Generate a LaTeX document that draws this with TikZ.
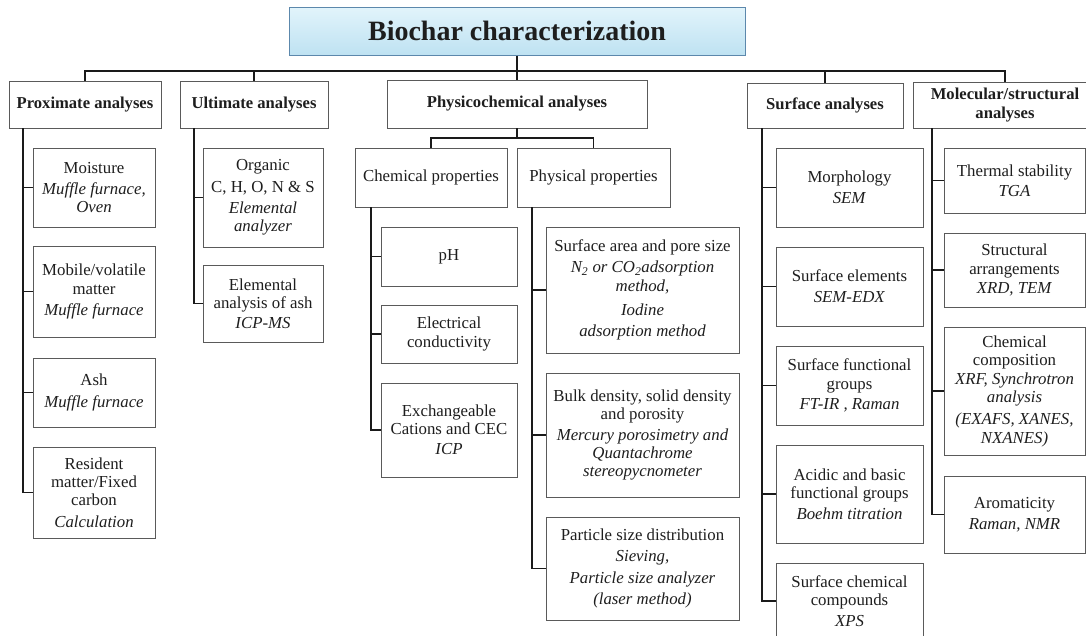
\documentclass[tikz,border=0pt]{standalone}
\usepackage{fontspec}
\setmainfont{Liberation Serif}
\definecolor{txt}{HTML}{1E1E1E}
\definecolor{boxline}{HTML}{5A5A5A}
\definecolor{conncol}{HTML}{1A1A1A}
\definecolor{titletop}{HTML}{E2F4FB}
\definecolor{titlebot}{HTML}{BEE2F2}
\definecolor{titleline}{HTML}{5C88AC}
\newcommand{\mth}[1]{\textit{#1}}
\begin{document}
\begin{tikzpicture}[x=1pt,y=-1pt,
  bx/.style={draw=boxline,line width=0.9pt,fill=white,inner sep=1pt,align=center,text=txt,
    font=\fontsize{16.8}{18.2}\selectfont},
  hd/.style={bx,font=\fontsize{16.6}{18.5}\selectfont\bfseries},
  conn/.style={draw=conncol,line width=1.5pt},
  bus/.style={draw=conncol,line width=2pt}]
\useasboundingbox (0,0) rectangle (1086,635);

% title
\node[draw=titleline,line width=1pt,top color=titletop,bottom color=titlebot,
  minimum width=456pt,minimum height=48pt,inner sep=0pt,text=txt,
  font=\fontsize{28}{30}\selectfont\bfseries] (title) at (517,31) {Biochar characterization};

% level 1
\node[hd,minimum width=152pt,minimum height=47pt] (prox) at (85,104.5) {Proximate analyses};
\node[hd,minimum width=148pt,minimum height=47pt] (ult) at (254,104.5) {Ultimate analyses};
\node[hd,minimum width=260pt,minimum height=48pt] (phys) at (517,104) {Physicochemical analyses};
\node[hd,minimum width=156pt,minimum height=45pt] (surf) at (825,105.5) {Surface analyses};
\node[hd,minimum width=184pt,minimum height=46pt] (mol) at (1005,105) {Molecular/structural\\analyses};

\coordinate (busy) at (517,71);
\draw[bus] (title.south) -- (phys.north);
\draw[bus] (prox.north) -- (prox.north |- busy) -- (mol.north |- busy) -- (mol.north);
\draw[bus] (ult.north) -- (ult.north |- busy);
\draw[bus] (surf.north) -- (surf.north |- busy);

% physicochemical sub level
\node[bx,minimum width=152pt,minimum height=59pt] (chem) at (431,177.5) {Chemical properties};
\node[bx,minimum width=153pt,minimum height=59pt] (physp) at (593.5,177.5) {Physical properties};
\coordinate (pcb) at (517,138);
\draw[conn] (phys.south) -- (pcb);
\draw[conn] (chem.north) -- (chem.north |- pcb) -- (physp.north |- pcb) -- (physp.north);

% proximate column
\node[bx,minimum width=122pt,minimum height=79pt] (moist) at (94,187.5) {Moisture\\[3pt]\mth{Muffle furnace,}\\\mth{Oven}};
\node[bx,minimum width=122pt,minimum height=91pt] (mobile) at (94,291.5) {Mobile/volatile\\matter\\[3pt]\mth{Muffle furnace}};
\node[bx,minimum width=122pt,minimum height=69pt] (ash) at (94,392.5) {Ash\\[3pt]\mth{Muffle furnace}};
\node[bx,minimum width=122pt,minimum height=91pt] (res) at (94,492.5) {Resident\\matter/Fixed\\carbon\\[3pt]\mth{Calculation}};
\coordinate (vprox) at (23,0);
\draw[conn] (prox.south -| vprox) |- (res.west);
\foreach \n in {moist,mobile,ash} \draw[conn] (\n.west) -- (\n.west -| vprox);

% ultimate column
\node[bx,minimum width=120pt,minimum height=99pt] (org) at (263,197.5) {Organic\\[3pt]C, H, O, N \& S\\[3pt]\mth{Elemental}\\\mth{analyzer}};
\node[bx,minimum width=120pt,minimum height=77pt] (elem) at (263,303.5) {Elemental\\analysis of ash\\[2pt]\mth{ICP-MS}};
\coordinate (vult) at (194,0);
\draw[conn] (ult.south -| vult) |- (elem.west);
\draw[conn] (org.west) -- (org.west -| vult);

% chemical properties column
\node[bx,minimum width=136pt,minimum height=59pt] (ph) at (449,256.5) {pH};
\node[bx,minimum width=136pt,minimum height=58pt] (ec) at (449,334) {Electrical\\conductivity};
\node[bx,minimum width=136pt,minimum height=94pt] (cec) at (449,430) {Exchangeable\\Cations and CEC\\[2pt]\mth{ICP}};
\coordinate (vchem) at (371,0);
\draw[conn] (chem.south -| vchem) |- (cec.west);
\foreach \n in {ph,ec} \draw[conn] (\n.west) -- (\n.west -| vchem);

% physical properties column
\node[bx,minimum width=193pt,minimum height=126pt] (sap) at (642.5,290) {Surface area and pore size\\[3pt]\mth{N\textsubscript{2} or CO\textsubscript{2}adsorption}\\\mth{method,}\\[6pt]\mth{Iodine}\\[3pt]\mth{adsorption method}};
\node[bx,minimum width=193pt,minimum height=124pt] (bd) at (642.5,435) {Bulk density, solid density\\and porosity\\[3pt]\mth{Mercury porosimetry and}\\\mth{Quantachrome}\\\mth{stereopycnometer}};
\node[bx,minimum width=193pt,minimum height=103pt] (psd) at (642.5,568.5) {Particle size distribution\\[3pt]\mth{Sieving,}\\[3pt]\mth{Particle size analyzer}\\[3pt]\mth{(laser method)}};
\coordinate (vphy) at (532,0);
\draw[conn] (physp.south -| vphy) |- (psd.west);
\foreach \n in {sap,bd} \draw[conn] (\n.west) -- (\n.west -| vphy);

% surface column
\node[bx,minimum width=147pt,minimum height=79pt] (morph) at (849.5,187.5) {Morphology\\[3pt]\mth{SEM}};
\node[bx,minimum width=147pt,minimum height=79pt] (sel) at (849.5,286.5) {Surface elements\\[3pt]\mth{SEM-EDX}};
\node[bx,minimum width=147pt,minimum height=79pt] (sfg) at (849.5,385.5) {Surface functional\\groups\\[2pt]\mth{FT-IR , Raman}};
\node[bx,minimum width=147pt,minimum height=98pt] (abg) at (849.5,494) {Acidic and basic\\functional groups\\[3pt]\mth{Boehm titration}};
\node[bx,minimum width=147pt,minimum height=76pt] (scc) at (849.5,601) {Surface chemical\\compounds\\[2pt]\mth{XPS}};
\coordinate (vsurf) at (762,0);
\draw[conn] (surf.south -| vsurf) |- (scc.west);
\foreach \n in {morph,sel,sfg,abg} \draw[conn] (\n.west) -- (\n.west -| vsurf);

% molecular column
\node[bx,minimum width=141pt,minimum height=65pt] (ts) at (1014.5,180.5) {Thermal stability\\[2pt]\mth{TGA}};
\node[bx,minimum width=141pt,minimum height=74pt] (sarr) at (1014.5,270) {Structural\\arrangements\\[1pt]\mth{XRD, TEM}};
\node[bx,minimum width=141pt,minimum height=128pt] (cc) at (1014.5,391) {Chemical\\composition\\[1pt]\mth{XRF, Synchrotron}\\\mth{analysis}\\[4pt]\mth{(EXAFS, XANES,}\\\mth{NXANES)}};
\node[bx,minimum width=141pt,minimum height=77pt] (aro) at (1014.5,514.5) {Aromaticity\\[3pt]\mth{Raman, NMR}};
\coordinate (vmol) at (932,0);
\draw[conn] (mol.south -| vmol) |- (aro.west);
\foreach \n in {ts,sarr,cc} \draw[conn] (\n.west) -- (\n.west -| vmol);
\end{tikzpicture}
\end{document}
